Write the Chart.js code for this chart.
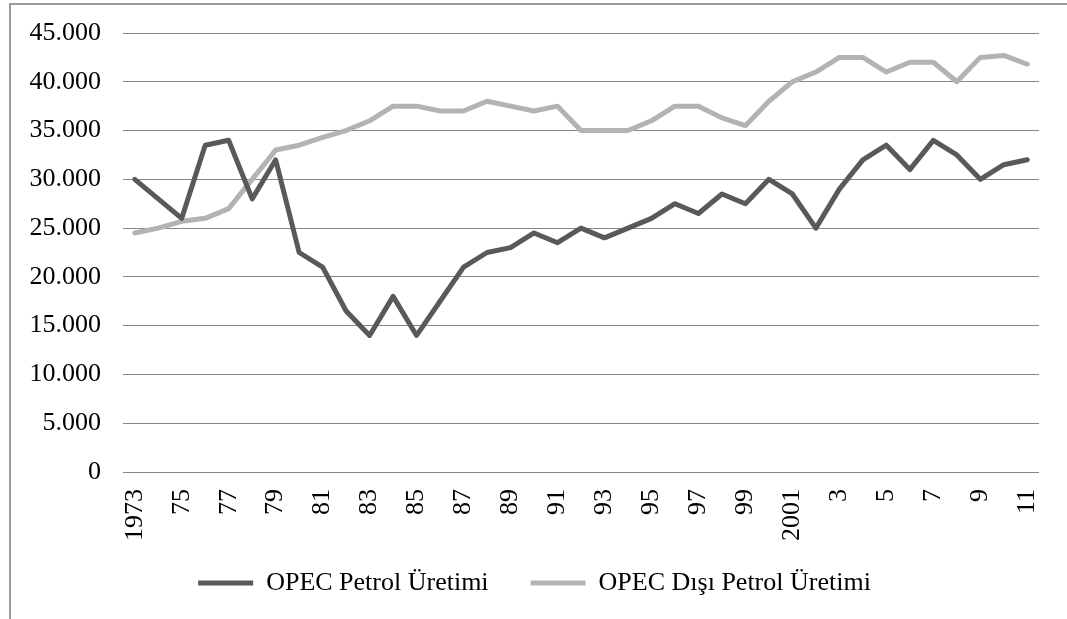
<!DOCTYPE html>
<html>
<head>
<meta charset="utf-8">
<title>OPEC ve OPEC Dışı Petrol Üretimi</title>
<script src="https://cdn.jsdelivr.net/npm/chart.js@4/dist/chart.umd.min.js"></script>
<style>
  body { margin: 0; background: #fff; }
  #wrap { position: relative; width: 1067px; height: 619px; overflow: hidden; }
  #frame {
    position: absolute; left: 9px; top: 3px; width: 1200px; height: 800px;
    border-left: 2px solid #9a9a9a; border-top: 2px solid #9a9a9a;
    pointer-events: none;
  }
  #chart { position: absolute; left: 0; top: 0; }
</style>
</head>
<body>
<div id="wrap">
  <div id="frame"></div>
  <canvas id="chart" width="1067" height="619"></canvas>
</div>
<script>
const years = [
  "1973", "74", "75", "76", "77", "78", "79", "80", "81", "82",
  "83", "84", "85", "86", "87", "88", "89", "90", "91", "92",
  "93", "94", "95", "96", "97", "98", "99", "2000", "2001", "2",
  "3", "4", "5", "6", "7", "8", "9", "10", "11",
];

const opec = [
  30000, 28000, 26000, 33500, 34000, 28000, 32000, 22500, 21000, 16500,
  14000, 18000, 14000, 17500, 21000, 22500, 23000, 24500, 23500, 25000,
  24000, 25000, 26000, 27500, 26500, 28500, 27500, 30000, 28500, 25000,
  29000, 32000, 33500, 31000, 34000, 32500, 30000, 31500, 32000,
];

const nonOpec = [
  24500, 25000, 25700, 26000, 27000, 30000, 33000, 33500, 34300, 35000,
  36000, 37500, 37500, 37000, 37000, 38000, 37500, 37000, 37500, 35000,
  35000, 35000, 36000, 37500, 37500, 36300, 35500, 38000, 40000, 41000,
  42500, 42500, 41000, 42000, 42000, 40000, 42500, 42700, 41800,
];

const seriesNames = ["OPEC Petrol Üretimi", "OPEC Dışı Petrol Üretimi"];

const FONT = "'Liberation Serif', 'Times New Roman', serif";
const GRID = "#878787";

// legend sits a bit higher than chart.js would put it
const legendNudge = {
  id: "legendNudge",
  afterLayout(chart) {
    const lg = chart.legend;
    const h = lg.bottom - lg.top;
    lg.top = chart.scales.x.top + 56;
    lg.bottom = lg.top + h;
  },
};

new Chart(document.getElementById("chart").getContext("2d"), {
  type: "line",
  data: {
    labels: years,
    datasets: [
      {
        label: seriesNames[0],
        data: opec,
        borderColor: "#595959",
        backgroundColor: "#595959",
        borderWidth: 5,
        borderCapStyle: "round",
        borderJoinStyle: "round",
        pointRadius: 0,
        tension: 0,
      },
      {
        label: seriesNames[1],
        data: nonOpec,
        borderColor: "#b3b3b3",
        backgroundColor: "#b3b3b3",
        borderWidth: 5,
        borderCapStyle: "round",
        borderJoinStyle: "round",
        pointRadius: 0,
        tension: 0,
      },
    ],
  },
  options: {
    responsive: false,
    animation: false,
    devicePixelRatio: 1,
    layout: {
      padding: { left: 30, right: 28, top: 33, bottom: 2 },
    },
    scales: {
      x: {
        offset: true,
        grid: { display: false, drawTicks: false },
        border: { display: false },
        afterFit: (s) => {
          s.height = 70;
          s.paddingLeft = 0;
          s.paddingRight = 0;
        },
        ticks: {
          autoSkip: false,
          maxRotation: 90,
          minRotation: 90,
          padding: 17,
          color: "#000",
          font: { family: FONT, size: 26 },
          callback: function (val, i) {
            return i % 2 === 0 ? this.getLabelForValue(val) : "";
          },
        },
      },
      y: {
        min: 0,
        max: 45000,
        grid: { color: GRID, lineWidth: 1, drawTicks: false },
        border: { display: false },
        afterFit: (s) => {
          s.width = 93;
          s.paddingTop = 0;
          s.paddingBottom = 0;
        },
        ticks: {
          stepSize: 5000,
          padding: 22,
          color: "#000",
          font: { family: FONT, size: 26 },
          callback: (v) => (v === 0 ? "0" : (v / 1000).toFixed(3)),
        },
      },
    },
    plugins: {
      legend: {
        position: "bottom",
        maxHeight: 75,
        labels: {
          usePointStyle: true,
          pointStyle: "line",
          pointStyleWidth: 55,
          padding: 42,
          color: "#000",
          font: { family: FONT, size: 26 },
        },
      },
      tooltip: { enabled: false },
    },
  },
  plugins: [legendNudge],
});
</script>
</body>
</html>
